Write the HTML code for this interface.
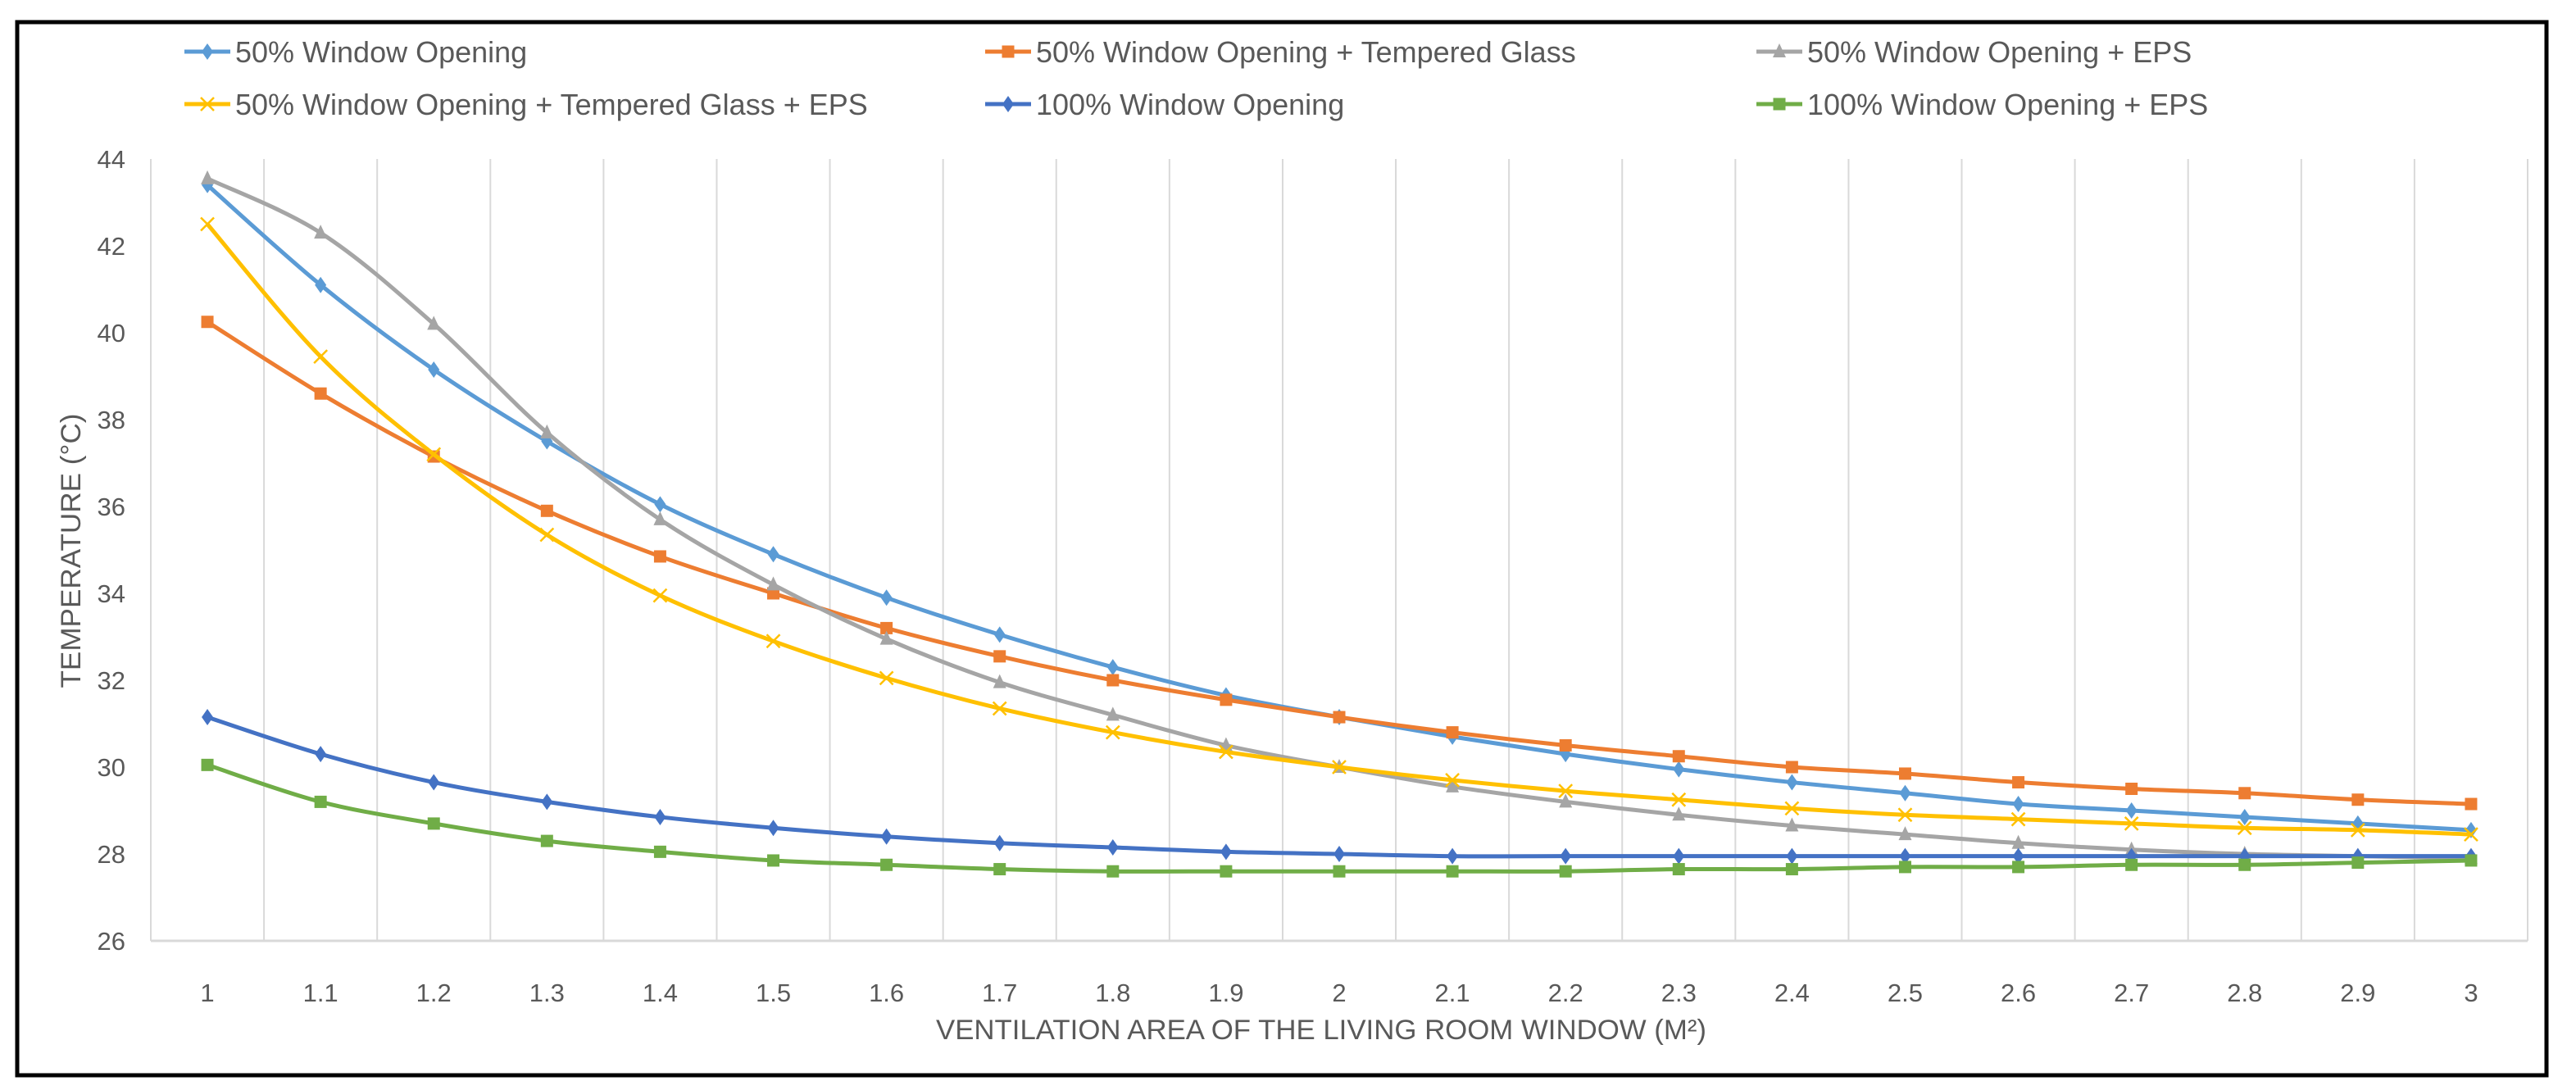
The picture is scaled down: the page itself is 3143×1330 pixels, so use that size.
<!DOCTYPE html>
<html><head><meta charset="utf-8"><style>
html,body{margin:0;padding:0;background:#fff;}
svg{display:block;font-family:"Liberation Sans",sans-serif;}
</style></head><body>
<svg id="chart" width="3143" height="1330" viewBox="0 0 3143 1330" xmlns="http://www.w3.org/2000/svg">
<rect x="21" y="27" width="3086" height="1285" fill="#fff" stroke="#000" stroke-width="5"/>
<g id="grid"></g>
<g id="xticks"></g>
<g id="yticks"></g>
<g id="series"></g>
<g id="legend"></g>
<text x="1612" y="1268" font-size="34" fill="#595959" text-anchor="middle" textLength="940" lengthAdjust="spacingAndGlyphs">VENTILATION AREA OF THE LIVING ROOM WINDOW (M²)</text>
<text transform="translate(98,672) rotate(-90)" font-size="34" fill="#595959" text-anchor="middle" textLength="335" lengthAdjust="spacingAndGlyphs">TEMPERATURE (°C)</text>
</svg>
<script>
const categories = ["1","1.1","1.2","1.3","1.4","1.5","1.6","1.7","1.8","1.9","2","2.1","2.2","2.3","2.4","2.5","2.6","2.7","2.8","2.9","3"];
const yTicks = [26,28,30,32,34,36,38,40,42,44];
const seriesNames = ["50% Window Opening","50% Window Opening + Tempered Glass","50% Window Opening + EPS","50% Window Opening + Tempered Glass + EPS","100% Window Opening","100% Window Opening + EPS"];
const s1 = [43.4,41.1,39.15,37.5,36.05,34.9,33.9,33.05,32.3,31.65,31.15,30.7,30.3,29.95,29.65,29.4,29.15,29.0,28.85,28.7,28.55];
const s2 = [40.25,38.6,37.15,35.9,34.85,34.0,33.2,32.55,32.0,31.55,31.15,30.8,30.5,30.25,30.0,29.85,29.65,29.5,29.4,29.25,29.15];
const s3 = [43.55,42.3,40.2,37.7,35.7,34.2,32.95,31.95,31.2,30.5,30.0,29.55,29.2,28.9,28.65,28.45,28.25,28.1,28.0,27.95,27.9];
const s4 = [42.5,39.45,37.2,35.35,33.95,32.9,32.05,31.35,30.8,30.35,30.0,29.7,29.45,29.25,29.05,28.9,28.8,28.7,28.6,28.55,28.45];
const s5 = [31.15,30.3,29.65,29.2,28.85,28.6,28.4,28.25,28.15,28.05,28.0,27.95,27.95,27.95,27.95,27.95,27.95,27.95,27.95,27.95,27.95];
const s6 = [30.05,29.2,28.7,28.3,28.05,27.85,27.75,27.65,27.6,27.6,27.6,27.6,27.6,27.65,27.65,27.7,27.7,27.75,27.75,27.8,27.85];

const NS="http://www.w3.org/2000/svg";
const plotL=184, plotR=3084, yMin=26, yMax=44, yBot=1148, yTop=194;
const step=(plotR-plotL)/categories.length;
function xPos(i){return plotL+step*(i+0.5);}
function yPos(v){return yBot-(v-yMin)/(yMax-yMin)*(yBot-yTop);}
function mk(tag,attrs,parent){const e=document.createElementNS(NS,tag);for(const k in attrs)e.setAttribute(k,attrs[k]);parent.appendChild(e);return e;}

const grid=document.getElementById('grid');
for(let i=0;i<=categories.length;i++){
  const x=plotL+step*i;
  const l=mk('line',{x1:x,x2:x,y1:yTop,y2:yBot,stroke:'#d9d9d9','stroke-width':2},grid);
  
  
}
const base=mk('line',{x1:plotL,x2:plotR,y1:yBot,y2:yBot,stroke:'#d9d9d9','stroke-width':3},grid);



const xt=document.getElementById('xticks');
categories.forEach((c,i)=>{
  const t=mk('text',{x:xPos(i),y:1222,'font-size':31,fill:'#595959','text-anchor':'middle'},xt);
  t.textContent=c;
  
  
});
const yt=document.getElementById('yticks');
yTicks.forEach(v=>{
  const t=mk('text',{x:153,y:yPos(v)+11,'font-size':31,fill:'#595959','text-anchor':'end'},yt);
  t.textContent=v;
  
  
});

const colors=['#5B9BD5','#ED7D31','#A5A5A5','#FFC000','#4472C4','#70AD47'];
const markers=['diamond','square','triangle','x','diamond','square'];
const data=[s1,s2,s3,s4,s5,s6];

function marker(g,type,x,y,color,s){
  let e;
  if(type==='diamond') e=mk('polygon',{points:`${x},${y-s} ${x+s*0.7},${y} ${x},${y+s} ${x-s*0.7},${y}`,fill:color},g);
  else if(type==='square') e=mk('rect',{x:x-s*0.75,y:y-s*0.75,width:s*1.5,height:s*1.5,fill:color},g);
  else if(type==='triangle') e=mk('polygon',{points:`${x},${y-s} ${x+s*0.8},${y+s*0.7} ${x-s*0.8},${y+s*0.7}`,fill:color},g);
  else {e=mk('path',{d:`M${x-s*0.8},${y-s*0.8}L${x+s*0.8},${y+s*0.8}M${x+s*0.8},${y-s*0.8}L${x-s*0.8},${y+s*0.8}`,stroke:color,'stroke-width':2.5,fill:'none'},g);}
  return e;
}
function smooth(pts){
  let d=`M${pts[0][0]},${pts[0][1]}`;
  for(let i=0;i<pts.length-1;i++){
    const p0=pts[i-1]||pts[i],p1=pts[i],p2=pts[i+1],p3=pts[i+2]||p2;
    const c1=[p1[0]+(p2[0]-p0[0])/6,p1[1]+(p2[1]-p0[1])/6];
    const c2=[p2[0]-(p3[0]-p1[0])/6,p2[1]-(p3[1]-p1[1])/6];
    d+=`C${c1[0]},${c1[1]} ${c2[0]},${c2[1]} ${p2[0]},${p2[1]}`;
  }
  return d;
}
const sg=document.getElementById('series');
data.forEach((arr,si)=>{
  const g=mk('g',{},sg);
  
  
  const pts=arr.map((v,i)=>[xPos(i),yPos(v)]);
  const p=mk('path',{d:smooth(pts),stroke:colors[si],'stroke-width':5,fill:'none'},g);
  
  
  pts.forEach(pt=>{
    const m=marker(g,markers[si],pt[0],pt[1],colors[si],10);
    
    
  });
});

const lg=document.getElementById('legend');
const legTextX=[287,1264,2205], legY=[63,127];
seriesNames.forEach((n,i)=>{
  const col=i%3,row=Math.floor(i/3);
  const g=mk('g',{},lg);
  
  
  const lx0=legTextX[col]-62;
  mk('line',{x1:lx0,x2:legTextX[col]-6,y1:legY[row],y2:legY[row],stroke:colors[i],'stroke-width':5},g);
  marker(g,markers[i],legTextX[col]-34,legY[row],colors[i],10);
  const t=mk('text',{x:legTextX[col],y:legY[row]+13,'font-size':36,fill:'#595959'},g);
  t.textContent=n;
});
</script>
</body></html>
